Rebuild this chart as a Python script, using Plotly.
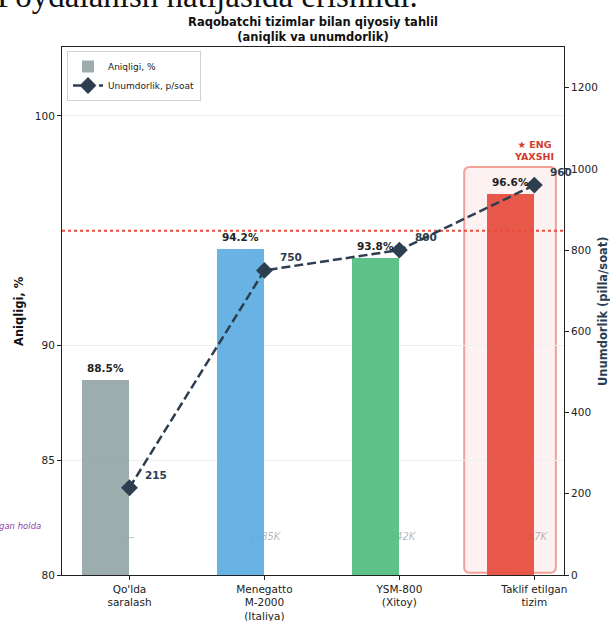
import plotly.graph_objects as go

categories = ["Qo'lda<br>saralash", "Menegatto<br>M-2000<br>(Italiya)", "YSM-800<br>(Xitoy)", "Taklif etilgan<br>tizim"]
accuracy = [88.5, 94.2, 93.8, 96.6]
throughput = [215, 750, 800, 960]
prices = ["—", "$185K", "$142K", "$87K"]
bar_colors = ["#95a5a6", "#5dade2", "#52be80", "#e74c3c"]
acc_labels = [f"{v:.1f}%" for v in accuracy]
thr_labels = [str(v) for v in throughput]
target_accuracy = 95
best_index = 3

pos = list(range(len(categories)))
bar_w = 0.35
bar_x = [p - bar_w / 2 for p in pos]

FONT = "DejaVu Sans"
NAVY = "#2c3e50"

# plot-area geometry in pixels
L, R, T, B = 62, 564, 47, 575
W, H = 610, 621
PW, PH = R - L, B - T


def px_x(x):
    return (x - L) / PW


def px_y(y):
    return (B - y) / PH


fig = go.Figure()

# price notes (drawn beneath the bars)
fig.add_trace(go.Scatter(
    x=pos, y=[81.65] * len(pos), mode="text", text=prices,
    textfont=dict(family=FONT, size=10, color="rgba(120,120,120,0.55)", style="italic"),
    showlegend=False, hoverinfo="skip", xaxis="x", yaxis="y"))

fig.add_trace(go.Bar(
    x=bar_x, y=accuracy, width=bar_w, marker=dict(color=bar_colors, line=dict(width=0)),
    opacity=0.92, name="Aniqligi, %", xaxis="x", yaxis="y2"))

fig.add_trace(go.Scatter(
    x=pos, y=throughput, mode="lines+markers", name="Unumdorlik, p/soat",
    line=dict(color=NAVY, width=2.5, dash="9px,4px"),
    marker=dict(symbol="diamond", size=13, color=NAVY),
    xaxis="x", yaxis="y3"))

annotations = []
for xb, a, lab in zip(bar_x, accuracy, acc_labels):
    annotations.append(dict(x=xb, y=a, xref="x", yref="y", text=f"<b>{lab}</b>",
                            showarrow=False, yshift=12,
                            font=dict(family=FONT, size=10.5, color="#222")))
for p, t, lab in zip(pos, throughput, thr_labels):
    annotations.append(dict(x=p, y=t, xref="x", yref="y3", text=f"<b>{lab}</b>",
                            showarrow=False, xanchor="left", xshift=14, yshift=13,
                            font=dict(family=FONT, size=10.5, color=NAVY)))
annotations.append(dict(x=best_index, y=98.5, xref="x", yref="y", text="<b>★ ENG<br>YAXSHI</b>",
                        showarrow=False, align="center",
                        font=dict(family=FONT, size=9.5, color="#d63b2f")))
annotations.append(dict(x=px_x(43), y=px_y(533), xref="paper", yref="paper",
                        text="qo'lda bajarilgan holda", showarrow=False, xanchor="right",
                        font=dict(family=FONT, size=8.5, color="#8e44ad", style="italic")))
annotations.append(dict(x=px_x(-5), y=px_y(16), xref="paper", yref="paper",
                        text="Foydalanish natijasida erishildi.", showarrow=False,
                        xanchor="left", yanchor="bottom",
                        font=dict(family="Liberation Serif", size=33, color="#111")))
# axis titles
annotations.append(dict(x=px_x(19), y=0.5, xref="paper", yref="paper", text="<b>Aniqligi, %</b>",
                        showarrow=False, textangle=-90, xanchor="center", yanchor="middle",
                        font=dict(family=FONT, size=11.5, color="#111")))
annotations.append(dict(x=px_x(603), y=0.5, xref="paper", yref="paper", text="<b>Unumdorlik (pilla/soat)</b>",
                        showarrow=False, textangle=-90, xanchor="center", yanchor="middle",
                        font=dict(family=FONT, size=11.5, color=NAVY)))

# highlight box (rounded)
x0, x1, y0, y1 = 2.48, 3.16, 80.1, 97.77
rx, ry = 0.04, 0.25
path = (f"M {x0+rx},{y0} L {x1-rx},{y0} Q {x1},{y0} {x1},{y0+ry} "
        f"L {x1},{y1-ry} Q {x1},{y1} {x1-rx},{y1} L {x0+rx},{y1} "
        f"Q {x0},{y1} {x0},{y1-ry} L {x0},{y0+ry} Q {x0},{y0} {x0+rx},{y0} Z")
xr = [-0.5, 3.22]
shapes = [
    dict(type="path", path=path, xref="x", yref="y", layer="below",
         fillcolor="rgba(231,76,60,0.07)", line=dict(color="rgba(231,76,60,0.5)", width=2)),
    dict(type="line", xref="x", x0=xr[0], x1=xr[1], yref="y", y0=target_accuracy, y1=target_accuracy,
         layer="below", line=dict(color="#e74c3c", width=2, dash="dot")),
]

fig.update_layout(
    width=W, height=H,
    margin=dict(l=L, r=W - R, t=T, b=H - B, autoexpand=False),
    paper_bgcolor="white", plot_bgcolor="white",
    font=dict(family=FONT, size=10.5, color="#222"),
    title=dict(text="<b>Raqobatchi tizimlar bilan qiyosiy tahlil<br>(aniqlik va unumdorlik)</b>",
               x=(L + R) / 2 / W, xanchor="center", y=1 - 26 / H, yanchor="middle",
               font=dict(family=FONT, size=11.5, color="#111")),
    xaxis=dict(range=xr, tickvals=pos, ticktext=categories, automargin=False,
               showline=True, linecolor="#222", linewidth=1, mirror=True,
               ticks="outside", ticklen=4, tickcolor="#222", showgrid=False, zeroline=False,
               tickfont=dict(family=FONT, size=10.5, color="#222")),
    yaxis=dict(range=[80, 103], tickvals=[80, 85, 90, 100], automargin=False,
               showline=True, linecolor="#222", linewidth=1,
               ticks="outside", ticklen=4, tickcolor="#222",
               showgrid=True, gridcolor="#efefef", gridwidth=1, zeroline=False,
               tickfont=dict(family=FONT, size=10.5, color="#222")),
    yaxis4=dict(range=[80, 103], overlaying="y", tickvals=[95], ticktext=["95"], automargin=False,
                ticks="outside", ticklen=4, tickcolor="#222", showgrid=False, showline=False,
                zeroline=False, tickfont=dict(family=FONT, size=10.5, color="#222")),
    yaxis2=dict(range=[80, 103], overlaying="y", visible=False, showgrid=False),
    yaxis3=dict(range=[0, 1300], overlaying="y", side="right", tickvals=[0, 200, 400, 600, 800, 1000, 1200],
                automargin=False,
                showline=True, linecolor="#222", linewidth=1,
                ticks="outside", ticklen=4, tickcolor="#222", showgrid=False, zeroline=False,
                tickfont=dict(family=FONT, size=10.5, color="#222")),
    legend=dict(x=px_x(67), y=px_y(51), xanchor="left", yanchor="top", bgcolor="rgba(255,255,255,0.9)",
                bordercolor="#d0d0d0", borderwidth=1, font=dict(family=FONT, size=9, color="#222"),
                tracegroupgap=0, itemwidth=30),
    annotations=annotations, shapes=shapes, bargap=0, showlegend=True,
)

fig.write_html("out.html", config={"displayModeBar": False},
               post_script="document.body.style.margin='0';")
